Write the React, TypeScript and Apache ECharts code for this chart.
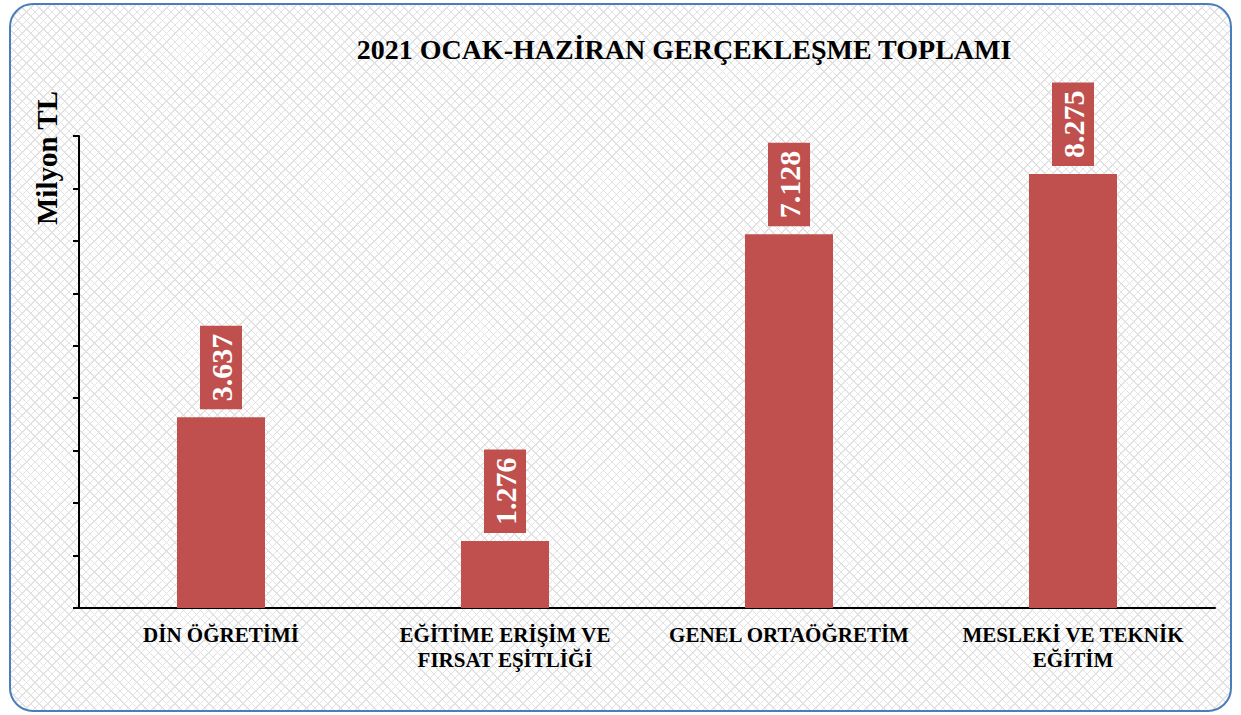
import React, { useEffect, useRef } from "react";
import * as echarts from "echarts";

const categories = [
  "DİN ÖĞRETİMİ",
  "EĞİTİME ERİŞİM VE\nFIRSAT EŞİTLİĞİ",
  "GENEL ORTAÖĞRETİM",
  "MESLEKİ VE TEKNİK\nEĞİTİM",
];
const values = [3637, 1276, 7128, 8275];
const titleText = "2021 OCAK-HAZİRAN GERÇEKLEŞME TOPLAMI";
const yAxisName = "Milyon TL";

const fmt = (v: number) => {
  const s = String(Math.round(v));
  return s.replace(/\B(?=(\d{3})+(?!\d))/g, ".");
};

const FONT = "'Liberation Serif', 'Times New Roman', serif";
const RED = "#C0504D";

export default function App() {
  const ref = useRef<HTMLDivElement>(null);
  useEffect(() => {
    if (!ref.current) return;
    const chart = echarts.init(ref.current, undefined, { renderer: "svg" });
    chart.setOption({
      animation: false,
      backgroundColor: "transparent",
      title: {
        text: titleText,
        left: 679,
        top: 30,
        textAlign: "center",
        textStyle: { fontFamily: FONT, fontWeight: "bold", fontSize: 28, color: "#000" },
      },
      graphic: [
        {
          type: "text",
          x: 47,
          y: 158,
          rotation: Math.PI / 2,
          style: {
            text: yAxisName,
            fontFamily: FONT,
            fontWeight: "bold",
            fontSize: 29,
            fill: "#000",
            align: "center",
            verticalAlign: "middle",
          },
        },
      ],
      grid: { left: 79, right: 26, top: 136, bottom: 107 },
      xAxis: {
        type: "category",
        data: categories,
        axisLine: { lineStyle: { color: "#000", width: 2 } },
        axisTick: { show: false },
        axisLabel: {
          fontFamily: FONT,
          fontWeight: "bold",
          fontSize: 21,
          color: "#000",
          margin: 14,
          lineHeight: 25,
          interval: 0,
        },
      },
      yAxis: {
        type: "value",
        min: 0,
        max: 9000,
        interval: 1000,
        axisLine: { show: true, lineStyle: { color: "#000", width: 2 } },
        axisTick: { show: true, length: 6, lineStyle: { color: "#000", width: 2 } },
        axisLabel: { show: false },
        splitLine: { show: false },
      },
      series: [
        {
          type: "bar",
          data: values,
          barWidth: 88,
          itemStyle: { color: RED },
          label: {
            show: true,
            position: "top",
            rotate: 90,
            align: "left",
            verticalAlign: "middle",
            distance: 8,
            formatter: (p: any) => fmt(p.value),
            fontFamily: FONT,
            fontWeight: "bold",
            fontSize: 30,
            lineHeight: 30,
            color: "#fff",
            backgroundColor: RED,
            padding: [6, 8, 6, 8],
          },
        },
      ],
    });
    return () => chart.dispose();
  }, []);

  const pattern =
    "repeating-linear-gradient(45deg, #e2e2e2 0px, #e2e2e2 1px, transparent 1px, transparent 6px), repeating-linear-gradient(-45deg, #e2e2e2 0px, #e2e2e2 1px, transparent 1px, transparent 6px)";

  return (
    <div style={{ position: "fixed", left: 0, top: 0, width: 1241, height: 715, background: "#fff" }}>
      <div
        style={{
          position: "absolute",
          left: 9,
          top: 3,
          width: 1223,
          height: 709,
          boxSizing: "border-box",
          border: "2px solid #4A7EBB",
          borderRadius: 24,
          backgroundColor: "#fff",
          backgroundImage: pattern,
        }}
      />
      <div ref={ref} style={{ position: "absolute", left: 0, top: 0, width: 1241, height: 715 }} />
    </div>
  );
}
